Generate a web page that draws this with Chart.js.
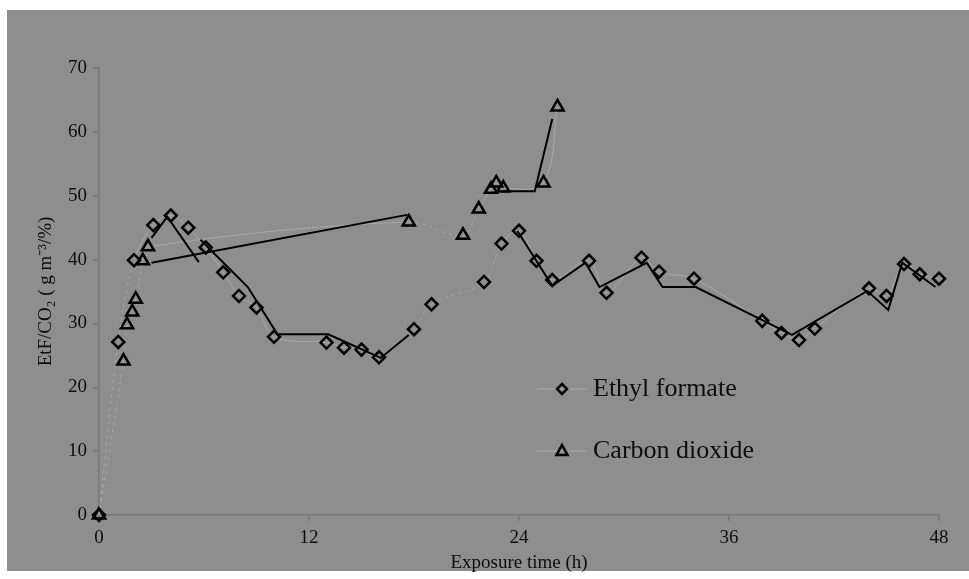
<!DOCTYPE html>
<html>
<head>
<meta charset="utf-8">
<script src="https://cdn.jsdelivr.net/npm/chart.js@4.4.1/dist/chart.umd.min.js"></script>
<style>
  html, body { margin: 0; padding: 0; background: #fff; }
</style>
</head>
<body>
<canvas id="chart" width="969" height="579"></canvas>
<script>
// values: exposure time (h) vs EtF (g m-3) / CO2 (%)
const efTime = [0, 1.1, 2, 3.1, 4.1, 5.1, 6.1, 7.1, 8, 9, 10, 13, 14, 15, 16, 18, 19, 22, 23, 24, 25, 25.9, 28, 29, 31, 32, 34, 37.9, 39, 40, 40.9, 44, 45, 46, 46.9, 48];
const efValues = [0, 27.1, 39.9, 45.4, 46.9, 45, 41.9, 38, 34.3, 32.5, 27.9, 27.0, 26.2, 25.9, 24.7, 29.1, 33.0, 36.5, 42.5, 44.5, 39.8, 36.8, 39.8, 34.8, 40.3, 38.1, 37.0, 30.4, 28.5, 27.4, 29.2, 35.5, 34.3, 39.3, 37.7, 37.0];

const co2Time = [0, 1.4, 1.6, 1.9, 2.1, 2.5, 2.8, 17.7, 20.8, 21.7, 22.4, 22.7, 23.1, 25.4, 26.2];
const co2Values = [0, 24.1, 29.8, 31.8, 33.8, 39.8, 42.0, 45.9, 43.8, 47.9, 51.0, 52.0, 51.2, 52.0, 63.9];

// black trend lines (null = break in the line)
const efTrendTime = [3.0, 3.9, 5.7, 5.75, 5.8, 8.5, 10.2, 13.1, 16.1, 17.7, 20, 23.9, 25.9, 27.8, 28.6, 31.3, 32.2, 34.1, 39.6, 43.9, 45.1, 45.9, 47.8];
const efTrendValues = [43.4, 46.7, 39.6, null, 43.1, 35.7, 28.3, 28.3, 24.6, 28.2, null, 44.5, 35.9, 39.5, 35.7, 39.5, 35.7, 35.7, 28.2, 35.1, 32.1, 39.5, 35.7];

const co2TrendTime = [3.0, 17.6, 20, 23.1, 24.9, 25.9];
const co2TrendValues = [39.5, 47.0, null, 50.7, 50.7, 62.0];

const xTicks = [0, 12, 24, 36, 48];
const seriesNames = ['Ethyl formate', 'Carbon dioxide'];

const toPoints = (xs, ys) => xs.map((x, i) => ({ x: x, y: ys[i] }));

const DOT = [3, 4];
const lineGray = '#a9a9a9';
const serif = '"Liberation Serif", "Times New Roman", serif';

// white frame + grey panel
const panelBg = {
  id: 'panelBg',
  beforeDraw(chart) {
    const ctx = chart.ctx;
    ctx.save();
    ctx.fillStyle = '#ffffff';
    ctx.fillRect(0, 0, chart.width, chart.height);
    ctx.fillStyle = '#8e8e8e';
    ctx.fillRect(7, 10, chart.width - 7, 561);
    ctx.restore();
  }
};

// legend sitting inside the plot
const insideLegend = {
  id: 'insideLegend',
  afterDraw(chart) {
    const ctx = chart.ctx;
    const rows = [
      { y: 389, style: 'diamond' },
      { y: 451, style: 'triangle' }
    ];
    ctx.save();
    rows.forEach((r, i) => {
      ctx.strokeStyle = lineGray;
      ctx.lineWidth = 1;
      ctx.beginPath();
      ctx.moveTo(537, r.y);
      ctx.lineTo(587, r.y);
      ctx.stroke();

      ctx.strokeStyle = '#000';
      ctx.lineWidth = 2.5;
      ctx.beginPath();
      if (r.style === 'diamond') {
        ctx.moveTo(562, r.y - 5);
        ctx.lineTo(567, r.y);
        ctx.lineTo(562, r.y + 5);
        ctx.lineTo(557, r.y);
      } else {
        ctx.moveTo(562, r.y - 6);
        ctx.lineTo(567.5, r.y + 4);
        ctx.lineTo(556.5, r.y + 4);
      }
      ctx.closePath();
      ctx.stroke();

      ctx.fillStyle = '#0d0d0d';
      ctx.font = '26px ' + serif;
      ctx.textBaseline = 'middle';
      ctx.fillText(seriesNames[i], 593, r.y);
    });
    ctx.restore();
  }
};

const tickFont = { family: serif, size: 19 };

new Chart(document.getElementById('chart'), {
  type: 'scatter',
  data: {
    datasets: [
      {
        label: 'EF trend',
        data: toPoints(efTrendTime, efTrendValues),
        showLine: true,
        spanGaps: false,
        borderColor: '#000',
        borderWidth: 2,
        pointRadius: 0,
        tension: 0
      },
      {
        label: 'CO2 trend',
        data: toPoints(co2TrendTime, co2TrendValues),
        showLine: true,
        spanGaps: false,
        borderColor: '#000',
        borderWidth: 2,
        pointRadius: 0,
        tension: 0
      },
      {
        label: seriesNames[0],
        data: toPoints(efTime, efValues),
        showLine: true,
        borderColor: lineGray,
        borderWidth: 1,
        tension: 0.35,
        pointStyle: 'rectRot',
        pointRadius: 6,
        pointBorderColor: '#000',
        pointBorderWidth: 2.5,
        pointBackgroundColor: 'rgba(0,0,0,0)',
        segment: {
          borderDash: ctx => {
            const x0 = ctx.p0.parsed.x;
            if (ctx.p0DataIndex <= 1) return DOT;
            if (x0 >= 16 && x0 < 23) return DOT;
            return undefined;
          }
        }
      },
      {
        label: seriesNames[1],
        data: toPoints(co2Time, co2Values),
        showLine: true,
        borderColor: lineGray,
        borderWidth: 1,
        tension: 0.35,
        pointStyle: 'triangle',
        pointRadius: 7,
        pointBorderColor: '#000',
        pointBorderWidth: 2.5,
        pointBackgroundColor: 'rgba(0,0,0,0)',
        segment: {
          borderDash: ctx => {
            const i = ctx.p0DataIndex;
            if (i <= 4) return DOT;
            if (i === 7 || i === 8) return DOT;
            return undefined;
          }
        }
      }
    ]
  },
  options: {
    responsive: false,
    animation: false,
    clip: false,
    layout: { padding: { top: 68, right: 30, bottom: 0, left: 0 } },
    plugins: {
      legend: { display: false },
      tooltip: { enabled: false }
    },
    scales: {
      x: {
        type: 'linear',
        min: 0,
        max: 48,
        afterFit: s => { s.height = 64; },
        afterBuildTicks: s => { s.ticks = xTicks.map(v => ({ value: v })); },
        grid: { drawOnChartArea: false, color: '#777', tickLength: 6, lineWidth: 1.5 },
        border: { color: '#777', width: 1.5 },
        ticks: { color: '#0d0d0d', font: tickFont, padding: 6, maxRotation: 0 },
        title: {
          display: true,
          text: 'Exposure time (h)',
          color: '#0d0d0d',
          font: { family: serif, size: 19 },
          padding: { top: 0, bottom: 5 }
        }
      },
      y: {
        min: 0,
        max: 70,
        afterFit: s => { s.width = 99; },
        grid: { drawOnChartArea: false, color: '#777', tickLength: 6, lineWidth: 1.5 },
        border: { color: '#777', width: 1.5 },
        ticks: { color: '#0d0d0d', font: tickFont, stepSize: 10, padding: 6 },
        title: {
          display: true,
          text: 'EtF/CO\u2082 ( g m\u207B\u00B3/%)',
          color: '#0d0d0d',
          font: { family: serif, size: 19 },
          padding: { top: 35, bottom: 0 }
        }
      }
    }
  },
  plugins: [panelBg, insideLegend]
});
</script>
</body>
</html>
